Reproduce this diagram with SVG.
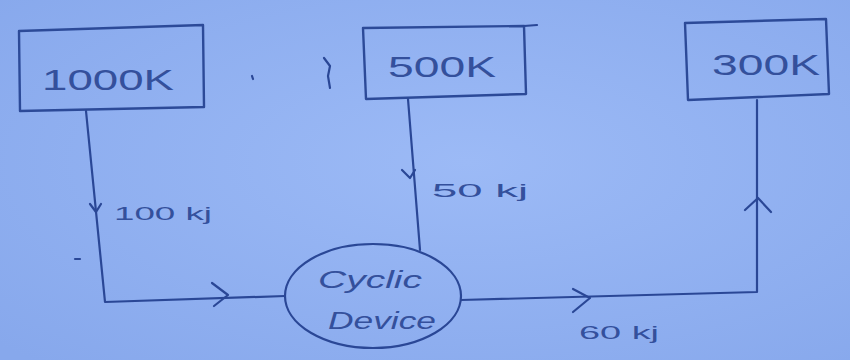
<svg xmlns="http://www.w3.org/2000/svg" width="850" height="360" viewBox="0 0 850 360">
  <defs>
    <radialGradient id="paper" cx="0.55" cy="0.45" r="0.75">
      <stop offset="0" stop-color="#9cbaf6"/>
      <stop offset="1" stop-color="#87a8ec"/>
    </radialGradient>
    <style>
      .ink { fill: none; stroke: #2a4796; stroke-width: 2.2; stroke-linecap: round; stroke-linejoin: round; }
      .box { fill: none; stroke: #2c4a98; stroke-width: 2.4; stroke-linejoin: round; }
      .lbl { font-family: "Liberation Sans", "DejaVu Sans", sans-serif; fill: #34509c; }
      .big { font-size: 30px; }
      .small { font-size: 18px; }
      .dev { font-size: 23px; font-style: italic; }
    </style>
  </defs>

  <rect width="850" height="360" fill="url(#paper)"/>

  <!-- reservoirs -->
  <g id="res-1000k">
    <path class="box" d="M19,31 L203,25 L204,107 L20,111 Z"/>
    <text class="lbl big" x="108" y="90" text-anchor="middle" textLength="132" lengthAdjust="spacingAndGlyphs">1000K</text>
  </g>
  <g id="res-500k">
    <path class="box" d="M363,28 L524,26 L526,94 L366,99 Z"/>
    <path class="ink" d="M524,26 L537,25"/>
    <text class="lbl big" x="442" y="77" text-anchor="middle" textLength="108" lengthAdjust="spacingAndGlyphs">500K</text>
  </g>
  <g id="res-300k">
    <path class="box" d="M685,23 L826,19 L829,94 L688,100 Z"/>
    <text class="lbl big" x="766" y="75" text-anchor="middle" textLength="108" lengthAdjust="spacingAndGlyphs">300K</text>
  </g>

  <!-- engine -->
  <g id="cyclic-device">
    <ellipse class="ink" cx="373" cy="296" rx="88" ry="52"/>
    <text class="lbl dev" x="370" y="288" text-anchor="middle" textLength="104" lengthAdjust="spacingAndGlyphs">Cyclic</text>
    <text class="lbl dev" x="382" y="329" text-anchor="middle" textLength="108" lengthAdjust="spacingAndGlyphs">Device</text>
  </g>

  <!-- heat flows -->
  <g id="connectors">
    <!-- from 1000K into the device -->
    <path class="ink" d="M86,111 L105,302 L285,296"/>
    <path class="ink" d="M212,283 L228,295 L214,306"/>
    <path class="ink" d="M90,204 L96,212 L101,204"/>
    <!-- from 500K into the device -->
    <path class="ink" d="M408,99 L420,250"/>
    <path class="ink" d="M402,170 L410,178 L415,170"/>
    <!-- from the device out to 300K -->
    <path class="ink" d="M461,300 L757,292 L757,100"/>
    <path class="ink" d="M573,289 L590,298 L573,312"/>
    <path class="ink" d="M745,210 L758,198 L771,212"/>
  </g>

  <!-- flow labels -->
  <text class="lbl small" x="114" y="220" textLength="98" lengthAdjust="spacingAndGlyphs">100 kj</text>
  <text class="lbl small" x="432" y="197" textLength="96" lengthAdjust="spacingAndGlyphs">50 kj</text>
  <text class="lbl small" x="579" y="339" textLength="80" lengthAdjust="spacingAndGlyphs">60 kj</text>

  <!-- stray pen marks -->
  <path class="ink" d="M324,58 L330,66 L328,76 L330,88" stroke-width="2.6"/>
  <path class="ink" d="M252,76 L253,79"/>
  <path class="ink" d="M75,259 L80,259"/>
</svg>
